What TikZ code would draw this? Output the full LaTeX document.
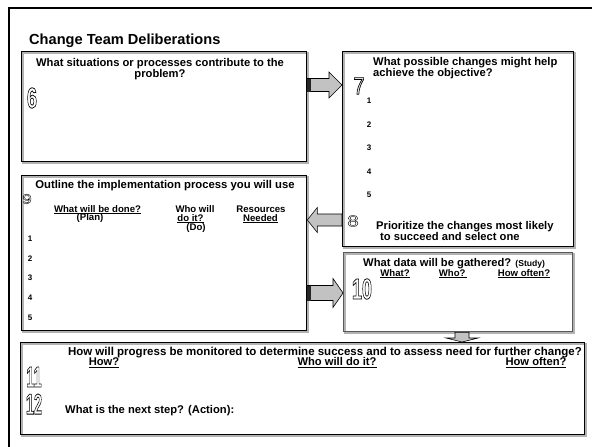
\documentclass[tikz,border=0pt]{standalone}
\usepackage{fontspec}
\setmainfont{Liberation Sans}
\usetikzlibrary{positioning,calc}

\definecolor{arrowgray}{gray}{0.76}

% hollow (outlined) step numbers
\newcommand{\outw}{0.8}
\newcommand{\outnum}[2][0.62]{\scalebox{#1}[1]{\special{pdf:literal direct 1 Tr \outw\space w}#2\special{pdf:literal direct 0 Tr}}}
% block arrow: from, to, shaft half width, head half width, head length
\newcommand{\fatarrow}[5]{%
  \filldraw[fatarrow] ($(#1)!#3!90:(#2)$) -- ($($(#2)!#5!(#1)$)!#3!-90:(#1)$)
    -- ($($(#2)!#5!(#1)$)!#4!-90:(#1)$) -- (#2)
    -- ($($(#2)!#5!(#1)$)!#4!90:(#1)$) -- ($($(#2)!#5!(#1)$)!#3!90:(#1)$)
    -- ($(#1)!#3!-90:(#2)$) -- cycle;}

\begin{document}
\begin{tikzpicture}[
    x=1pt, y=-1pt,
    frame/.style = {line width=2pt, black},
    box/.style = {draw, line width=1.3pt, anchor=north west, inner sep=0pt,
      preaction={draw=gray!60, line width=1.3pt, transform canvas={shift={(1.3pt,-1.3pt)}}}},
    gbox/.style = {box, draw=gray!70!black},
    head/.style = {inner sep=0pt, font=\bfseries\fontsize{11.2}{11}\selectfont},
    sub/.style = {inner sep=0pt, font=\bfseries\fontsize{9.6}{10}\selectfont},
    num/.style = {inner sep=0pt, font=\bfseries\fontsize{8}{9}\selectfont},
    bignum/.style = {inner sep=0pt, font=\bfseries\fontsize{29}{29}\selectfont},
    smallnum/.style = {inner sep=0pt, font=\fontsize{#1}{#1}\selectfont\renewcommand{\outw}{0.35}},
    fatarrow/.style = {draw=black, line width=0.6pt, fill=arrowgray, line join=miter}
]
\useasboundingbox (0,0) rectangle (592,447);

% outer frame
\coordinate (fTL) at (9,8);
\draw [frame] (fTL |- 0,447) -- (fTL) -- (592,8);

\node [head, font=\bfseries\fontsize{14.6}{16}\selectfont, anchor=base west] (title) at (29,44) {Change Team Deliberations};

% Box 6
\node [box, minimum width=285pt, minimum height=110pt] (b6) at (21,51) {};
\node [head, align=center, anchor=north] (q6) at (160,58) {What situations or processes contribute to the\\problem?};
\node [bignum] (n6) at (32,98) {\outnum{6}};

% Box 7 / 8
\node [box, minimum width=231pt, minimum height=195pt] (b7) at (342,51) {};
\node [head, align=left, anchor=north west] (q7) at (373,57) {What possible changes might help\\achieve the objective?};
\node [bignum, font=\fontsize{24}{24}\selectfont] (n7) at (359,86) {\outnum[0.85]{7}};
\foreach \i/\y in {1/101,2/125,3/148,4/172,5/195}
  \node [num] (c\i) at (369,\y) {\i};
\node [smallnum=16] (n8) at (353,221) {\outnum[1.3]{8}};
\node [head, anchor=base west] (q8a) at (376,229) {Prioritize the changes most likely};
\node [head, anchor=base west] (q8b) at (380,240.5) {to succeed and select one};

% Box 9
\node [box, minimum width=285pt, minimum height=155pt] (b9) at (21,175) {};
\node [head, font=\bfseries\fontsize{11.3}{12}\selectfont, anchor=base] (q9) at (165,188) {Outline the implementation process you will use};
\node [smallnum=14] (n9) at (27,199) {\outnum[1.2]{9}};
\node [sub, anchor=base] (h9a) at (97.5,212) {\underline{What will be done?}};
\node [sub, anchor=base] (h9b) at (90,220.5) {(Plan)};
\node [sub, anchor=base] (h9c) at (195,212) {Who will};
\node [sub, anchor=base] (h9d) at (190.5,221) {\underline{do it?}};
\node [sub, anchor=base] (h9e) at (196,230.5) {(Do)};
\node [sub, anchor=base] (h9f) at (261,212) {Resources};
\node [sub, anchor=base] (h9g) at (260.5,221) {\underline{Needed}};
\foreach \i/\y in {1/239,2/259,3/278,4/298,5/318}
  \node [num] (r\i) at (30,\y) {\i};

% Box 10
\node [gbox, minimum width=229pt, minimum height=79pt] (b10) at (343,252) {};
\node [head, anchor=base west] (q10) at (363,266) {What data will be gathered? {\fontsize{8.6}{9}\selectfont(Study)}};
\node [sub, anchor=base] (h10a) at (395,276) {\underline{What?}};
\node [sub, anchor=base] (h10b) at (453,276) {\underline{Who?\,}};
\node [sub, anchor=base] (h10c) at (524,276) {\underline{How often?}};
\node [bignum] (n10) at (362,289) {\outnum[0.62]{10}};

% Box 11 / 12
\node [box, minimum width=564pt, minimum height=92pt] (b11) at (20,342) {};
\node [head, font=\bfseries\fontsize{11.5}{12}\selectfont, anchor=base east] (q11) at (582,355) {How will progress be monitored to determine success and to assess need for further change?};
\node [head, anchor=base] (h11a) at (104,365.5) {\underline{How?}};
\node [head, anchor=base] (h11b) at (337,365.5) {\underline{Who will do it?}};
\node [head, anchor=base] (h11c) at (536,365.5) {\underline{How often?}};
\node [bignum] (n11) at (34,377) {\outnum[0.5]{11}};
\node [bignum] (n12) at (34,404) {\outnum[0.5]{12}};
\node [head, anchor=base west] (q12) at (65,413) {What is the next step? (Action):};

% Arrows
\coordinate (a1s) at (b6.east |- 0,85);
\coordinate (a1e) at (b7.west |- a1s);
\fatarrow{a1s}{a1e}{6.5pt}{13pt}{13pt}
\fill [black!85] ($(a1s)!6.5pt!90:(a1e)$) rectangle ($($(a1s)!4pt!(a1e)$)!6.5pt!-90:(a1e)$);

\coordinate (a2s) at (b7.west |- 0,220);
\coordinate (a2e) at (b9.east |- a2s);
\fatarrow{a2s}{a2e}{6pt}{12.5pt}{10pt}

\coordinate (a3s) at (b9.east |- 0,293);
\coordinate (a3e) at (b10.west |- a3s);
\fatarrow{a3s}{a3e}{7.5pt}{14.5pt}{10pt}
\fill [black!85] ($(a3s)!7.5pt!90:(a3e)$) rectangle ($($(a3s)!4pt!(a3e)$)!7.5pt!-90:(a3e)$);

\coordinate (a4s) at (462,0 |- b10.south);
\coordinate (a4e) at (a4s |- b11.north);
\fatarrow{a4s}{a4e}{7pt}{16pt}{4pt}

\end{tikzpicture}
\end{document}
